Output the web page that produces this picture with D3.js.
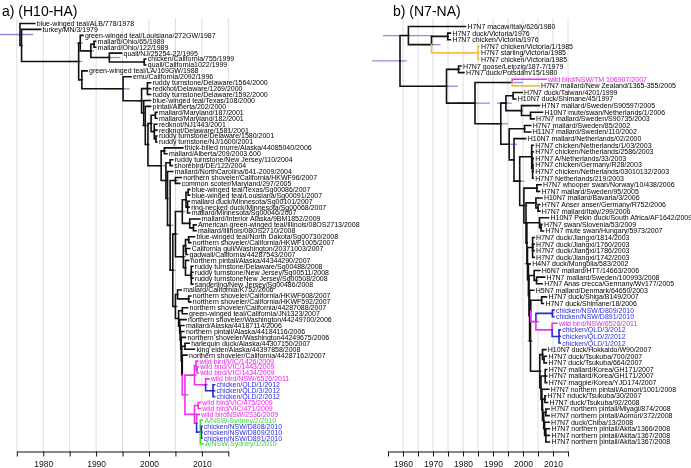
<!DOCTYPE html>
<html><head><meta charset="utf-8">
<script src="https://cdn.jsdelivr.net/npm/d3@7"></script>
<style>body{margin:0;background:#fff} svg{will-change:transform} text{font-family:"Liberation Sans",Arial,Helvetica,sans-serif}</style>
</head><body>
<svg id="c" width="691" height="468"></svg>
<script>
// ---------- Panel a (H10-HA) ----------
const namesA = [
"blue-winged teal/ALB/778/1978","turkey/MN/3/1979","green-winged teal/Louisiana/272GW/1987","mallard/Ohio/65/1989","mallard/Ohio/122/1989",
"quail/NJ/25254-22/1995","chicken/California/755/1999","quail/California1022/1999","green-winged teal/LA/169GW/1988","emu/California/2092/1996",
"ruddy turnstone/Delaware/1564/2000","redknot/Delaware/1269/2000","ruddy turnstone/Delaware/1592/2000","blue-winged teal/Texas/108/2000","pintail/Alberta/202/2000",
"mallard/Maryland/187/2001","mallard/Maryland/182/2001","redknot/NJ1443/2001","redknot/Delaware/1581/2001","ruddy turnstone/Delaware/1580/2001","ruddy turnstone/NJ/1600/2001",
"thick-billed murre/Alaska/44085040/2006","mallard/Alberta/209/2003.600","ruddy turnstone/New Jersey/110/2004","shorebird/DE/122/2004","mallard/NorthCarolina/641-2009/2004",
"northern shoveler/California/HKWF96/2007","common scoter/Maryland/297/2005","blue-winged teal/Texas/Sg00086/2007","blue-winged teal/Louisiana/Sg00091/2007",
"mallard duck/Minnesota/Sg00101/2007","ring-necked duck/Minnesota/Sg00068/2007","mallard/Minnesota/Sg00046/2007","mallard/Interior Alaska/9BM1852/2009",
"American green-winged teal/Illinois/08OS2713/2008","mallard/Illinois/08OS2710/2008","blue-winged teal/North Dakota/Sg00730/2008","northern shoveler/California/HKWF1005/2007",
"California gull/Washington/20371003/2007","gadwall/California/44287543/2007","northern pintail/Alaska/44344290/2007","ruddy turnstone/Delaware/Sg00488/2008",
"ruddy turnstone/New Jersey/Sg00511/2008","ruddy turnstoneNew Jersey/Sg00508/2008","sanderling/New Jersey/Sg00486/2008","mallard/California/K752/2006",
"northern shoveler/California/HKWF608/2007","northern shoveler/California/HKWF592/2007","northern shoveler/California/44287088/2007","green-winged teal/California/JN1323/2007",
"northern shoveler/Washington/44249700/2006","mallard/Alaska/44187114/2006","northern pintail/Alaska/44184116/2006","northern shoveler/Washington44249675/2006",
"harlequin duck/Alaska/44307150/2007","king eider/Alaska/44397858/2008","northern shoveler/California/44287162/2007",
"wild bird/VIC/1426/2009","wild bird/VIC/1443/2009","wild bird/VIC/1434/2009","wild bird/NSW/6526/2011","chicken/QLD/1/2012","chicken/QLD/3/2012","chicken/QLD/2/2012",
"wild bird/VIC/475/2009","wild bird/VIC/471/2009","wild birdNSW/2336/2009","A/NSW-Sydney/2/2010","chicken/NSW/D808/2010","chicken/NSW/D809/2010","chicken/NSW/D891/2010","A/NSW-Sydney/1/2010"];
const datesA = [1978.4,1979.5,1987.5,1989.9,1989.9,1994.8,1999.4,1999.4,1988.3,1996.6,
2000.3,2000.3,2000.3,2000.3,2000.3,2001.5,2001.5,2001.5,2001.5,2001.5,2001.5,
2006.4,2003.4,2004.5,2004.4,2004.5,2006.1,2005.8,2007.7,2007.7,2007.6,2007.6,2007.7,2009.6,
2008.9,2008.9,2008.6,2007.9,2007.7,2007.3,2007.5,2008.3,2008.3,2008.3,2008.3,2006.1,
2007.9,2007.9,2007.3,2007.2,2007.0,2006.6,2006.6,2006.9,2007.6,2008.6,2007.2,
2009.2,2009.3,2009.3,2011.3,2012.4,2012.4,2012.4,2009.7,2009.7,2009.5,2010.1,2010.0,2010.0,2010.0,2010.2];
const groupsA = [
"","","","","","","","","","",
"","","","","","","","","","",
"","","","","","","","","","",
"","","","","","","","","","",
"","","","","","","","","","",
"","","","","","","",
"m","m","m","m","b","b","b","m","m","m","g","b","b","b","g"];
const cladesA = [
["ROOT","(0,(1,((2,((3,4)1989.6|1989.1|1989.8,(5,(6,7)1999.1|1998.5|1999.3)1992.5|1990.8|1994.6)1989.0|1988.2|1989.6)1987.0|1986.3|1987.5,(8,(9,J)1995.1|1991.3|1996.4)1987.3)1986.7|1984.5|1987.4)1975.9)1975.6|1971.8|1978.1"],
["J","((10,11,12)1999.7,(13,(14,J4)1999.3|1998.6|1999.9)1999.0)1998.6|1997.6|1999.6"],
["J4","(((15,16)2001.2,(17,18,(19,20)2001.3)2001.0)2000.4|1999.9|2000.8,J5)1999.8|1999.2|2000.2"],
["J5","((21,22)2002.9|2002.2|2003.3,U)2002.3|2001.5|2003.2"],
["U","((23,24)2004.0,U2)2003.2|2002.6|2003.7"],
["U2","(25,U3)2003.5"],
["U3","((26,27)2005.0|2004.4|2005.6,U4)2004.0|2003.3|2004.6"],
["U4","(X,Y)2004.5|2003.8|2005.1"],
["X","(X1,X2)2005.0|2004.3|2005.6"],
["X1","(((28,29)2007.4,(30,31,32)2007.3)2007.0,(33,(34,35)2008.4)2007.7)2006.3|2005.8|2006.9"],
["X2","(((36,37)2007.5,(38,39)2007.0)2006.9,(40,(41,42,43,44)2008.0)2006.9)2006.5|2005.9|2007.0"],
["Y","((45,(46,47)2007.5)2005.4,Y1)2005.0|2004.4|2005.5"],
["Y1","((48,49)2006.3,Y2)2005.6"],
["Y2","(50,Y3)2005.8"],
["Y3","(51,Y4)2005.9"],
["Y4","(52,Y5)2006.0"],
["Y5","(53,Y6)2006.1"],
["Y6","((54,55)2006.8,Y7)2006.2"],
["Y7","(56,AU)2006.3"],
["AU","(AU1,AU2)2006.8|2006.1|2007.5@m"],
["AU1","((57,(58,59)2009.1)2008.9,(60,(61,62,63)2012.1|2011.6|2012.3@b)2010.7|2010|2011.2)2008.6|2008.1|2009.0"],
["AU2","((64,65)2009.3,(66,(67,(68,69,70)2009.9,71)2009.7@b)2009.0)2008.6|2008.2|2009.0"]
];
const ticksA = [1975,1980,1985,1990,1995,2000,2005,2010,2015];

// ---------- Panel b (N7-NA) ----------
const namesB = [
"H7N7 macaw/Italy/626/1980","H7N7 duck/Victoria/1976","H7N7 chicken/Victoria/1976","H7N7 chicken/Victoria/1/1985","H7N7 starling/Victoria/1985","H7N7 chicken/Victoria/1985",
"H7N7 goose/Leipzig/187-7/1979","H7N7 duck/Potsdam/15/1980","wild bird/NSW/TM 106907/2007","H7N7 mallard/New Zealand/1365-355/2005","H7N7 duck/Taiwan/4201/1999",
"H10N7 duck/Shimane/45/1997","H7N7 mallard/Sweden/S90597/2005","H10N7 mute/swan/Netherlands/1/2006","H7N7 mallard/Sweden/S90735/2003","H7N7 mallard/Sweden/85/2002",
"H11N7 mallard/Sweden/110/2002","H10N7 mallard/Netherlands/02/2000","H7N7 chicken/Netherlands/1/03/2003","H7N7 chicken/Netherlands/2586/2003","H7N7 A/Netherlands/33/2003",
"H7N7 chicken/Germany/R28/2003","H7N7 chicken/Netherlands/03010132/2003","H7N7 Netherlands/219/2003","H7N7 whooper swan/Norway/10/438/2006","H7N7 mallard/Sweden/95/2005",
"H10N7 mallard/Bavaria/3/2006","H7N7 Anser anser/Germany/R752/2006","H7N7 mallard/Italy/299/2006","H10N7 Pekin duck/South Africa/AF1642/2009","H7N7 swan/Slovenia/53/2009",
"H7N7 mute swan/Hungary/5973/2007","H7N7 duck/Jiangxi/1814/2003","H7N7 duck/Jiangxi/1760/2003","H7N7 duck/Jiangxi/1786/2003","H7N7 duck/Jiangxi/1742/2003",
"H4N7 duck/Mongolia/583/2002","H6N7 mallard/HTT/14663/2006","H7N7 mallard/Sweden/100993/2008","H7N7 Anas crecca/Germany/Wv177/2005","H5N7 mallard/Denmark/64650/2003",
"H7N7 duck/Shiga/B149/2007","H7N7 duck/Shimane/18/2006","chicken/NSW/D809/2010","chicken/NSW/D891/2010","wild bird/NSW/6526/2011","chicken/QLD/3/2012","chicken/QLD/2/2012","chicken/QLD/1/2012",
"H10N7 duck/Hokkaido/W90/2007","H7N7 duck/Tsukuba/700/2007","H7N7 duck/Tsukuba/664/2007","H7N7 mallard/Korea/GH171/2007","H7N7 mallard/Korea/GH171/2007","H7N7 magpie/Korea/YJD174/2007",
"H7N7 northern pintail/Aomori/1001/2008","H7N7 nduck/Tsukuba/30/2007","H7N7 duck/Tsukuba/92/2008","H7N7 northern pintail/Miyagi/874/2008","H7N7 northern pintail/Aomori/372/2008",
"H7N7 duck/Chiba/13/2008","H7N7 northern pintail/Akita/1366/2008","H7N7 northern pintail/Akita/1367/2008","H7N7 northern pintail/Akita/1367/2008"];
const datesB = [1980.8,1975.8,1975.8,1985.3,1985.3,1985.3,1979.3,1980.3,2007.7,2005.3,1999.7,
1997.6,2005.5,2006.5,2003.7,2002.6,2002.6,2000.9,2003.4,2003.4,2003.4,2003.4,2003.4,2003.4,2006.0,2005.5,
2006.3,2005.6,2005.6,2008.5,2006.3,2006.8,2003.7,2003.7,2003.7,2003.7,2002.4,2005.6,2007.2,2006.4,2003.6,
2007.8,2006.8,2010.3,2010.3,2011.3,2012.4,2012.4,2012.4,2007.6,2007.8,2007.8,2007.9,2007.9,2007.9,
2008.6,2007.5,2008.2,2008.7,2008.7,2008.7,2008.8,2008.8,2008.8];
const groupsB = [
"","","","o","o","o","","","m","o",
"","","","","","","","","","",
"","","","","","","","","","",
"","","","","","","","","","",
"","","","b","b","m","b","b","b","",
"","","","","","","","","","",
"","","",""];
const cladesB = [
["ROOT","((0,((1,2)1974.9,(3,4,5)1985.0@o)1969.5|1966|1972.5)1961.8|1953.3|1970,((6,7)1978.5|1975|1979.2,((8,9)1996.4|1992|2000,CC)1984.0|1978.5|1989)1974.5|1971.3|1978.3)1959.0|1949.7|1961.3"],
["CC","(DD,EE)1992.6|1988.5|1995"],
["DD","((10,11)1996.7,(12,(13,14)2002.5)1999.5)1994.3|1991.3|1996.3"],
["EE","((15,16)2000.5,KK)1995.4|1993|1998"],
["KK","(17,LL)1997.0"],
["LL","((18,19,(20,21,22,23)2003.2)2002.9,NN)1998.9|1996.5|2000.5"],
["NN","((24,25)2004.6,RR)2000.3|1999|2001.5"],
["RR","((26,(27,28)2005.0)2004.3,TT)2001.0"],
["TT","((29,(30,31)2006.0)2005.5,VV)2001.3"],
["VV","((32,33,34,35)2003.2,XX)2001.5|2000.5|2002.5"],
["XX","(36,YY)2001.8"],
["YY","((37,(38,39)2004.5)2003.7,AB)2002.0"],
["AB","(40,AC)2002.2"],
["AC","(AD,AE)2002.5|2001.5|2003.2"],
["AD","((41,42)2006.2,AG)2002.6"],
["AG","((43,44)2009.8@b,(45,(46,47,48)2012.0@b)2009.7)2004.3|2003|2005.5@m"],
["AE","((49,(50,51)2007.0)2006.5,AM)2005.6|2004.5|2006.3"],
["AM","((52,53,54)2007.4,AO)2006.0"],
["AO","(55,AP)2006.3"],
["AP","((56,57)2007.3,AR)2006.5"],
["AR","((58,59)2007.6,AT)2006.9"],
["AT","(60,(61,62,63)2007.6)2007.2"]
];
const ticksB = [1955,1960,1965,1970,1975,1980,1985,1990,1995,2000,2005,2010,2015];

// ---------- styles ----------
const lineCol = {"":"#111", m:"#ee33ee", b:"#2a2ad0", g:"#44dd44", o:"#f2c04a"};
const textCol = {"":"#000", m:"#ee22ee", b:"#2f2fd6", g:"#3cd43c", o:"#000"};

function expand(clades){
  const map = new Map(clades);
  let s = map.get("ROOT");
  for(let k=0;k<30 && /[A-Z]/.test(s);k++) s = s.replace(/[A-Z][A-Z0-9]*/g, m => map.get(m));
  return s;
}
function parseNewick(s){
  s = s.replace(/\s+/g,"");
  let i=0;
  function node(){
    let n;
    if(s[i]==='('){
      i++; const ch=[node()];
      while(s[i]===','){i++; ch.push(node());}
      i++; n={children:ch};
    } else n={};
    let lab='';
    while(i<s.length && !',()'.includes(s[i])) lab+=s[i++];
    const [nums,col] = lab.split('@');
    const p = nums.split('|').map(Number);
    if(n.children){ n.t=p[0]; if(p.length>2){n.lo=p[1];n.hi=p[2];} n.col=col; }
    else { n.leaf=p[0]; }
    return n;
  }
  return node();
}

const svg = d3.select("#c");

function drawPanel(cfg){
  const g = svg.append("g");
  const x = d3.scaleLinear().domain(cfg.xDomain).range(cfg.xRange);
  const y = d3.scalePoint().domain(d3.range(cfg.names.length)).range(cfg.yRange);
  g.append("g").selectAll("line").data(cfg.grid).join("line")
    .attr("x1",d=>x(d)).attr("x2",d=>x(d)).attr("y1",cfg.gridTop).attr("y2",cfg.axisY)
    .attr("stroke","#dedede").attr("stroke-width",1);
  const root = parseNewick(expand(cfg.clades));
  const segs=[], hpds=[], leaves=[];
  (function walk(n, parentCol){
    if(n.children){
      n.c = n.col!==undefined ? n.col : parentCol;
      n.children.forEach(ch=>walk(ch, n.c));
      n.y = (n.children[0].y + n.children[n.children.length-1].y)/2;
      if(n.lo!==undefined) hpds.push(n);
    } else {
      n.t = cfg.dates[n.leaf];
      const gr = cfg.groups[n.leaf];
      n.c = gr ? gr : parentCol;
      n.y = y(n.leaf);
      leaves.push(n);
    }
  })(root, "");
  (function walk2(n){
    if(n.children) n.children.forEach(ch=>{ segs.push({p:n,c:ch}); walk2(ch); });
  })(root);
  g.append("g").selectAll("line").data(hpds).join("line")
    .attr("x1",d=>x(d.lo)).attr("x2",d=>x(d.hi)).attr("y1",d=>d.y).attr("y2",d=>d.y)
    .attr("stroke","#6a6ad8").attr("stroke-opacity",0.75).attr("stroke-width",1.3);
  segs.sort((a,b)=>(a.c.c?1:0)-(b.c.c?1:0));
  g.append("g").attr("fill","none").selectAll("path").data(segs).join("path")
    .attr("d",d=>`M${x(d.p.t)},${d.p.y}V${d.c.y}H${x(d.c.t)}`)
    .attr("stroke",d=>lineCol[d.c.c||""]).attr("stroke-width",1.6).attr("stroke-linecap","square");
  g.append("g").selectAll("text").data(leaves).join("text")
    .attr("x",d=>x(d.t)+2).attr("y",d=>d.y).attr("dy","0.35em")
    .attr("font-size","7px").attr("fill",d=>textCol[cfg.groups[d.leaf]||""])
    .text(d=>cfg.names[d.leaf]);
  const ax = g.append("g").attr("transform",`translate(0,${cfg.axisY})`)
    .call(d3.axisBottom(x).tickValues(cfg.ticks).tickFormat(d=>d%10===0?d:"").tickSize(5).tickSizeOuter(0));
  ax.select(".domain").attr("stroke","#111");
  ax.selectAll(".tick line").attr("stroke","#111");
  ax.selectAll(".tick text").attr("font-size","8.5px").attr("fill","#111").attr("dy","0.9em")
    .attr("font-family","Liberation Sans, Arial, sans-serif");
  svg.append("text").attr("x",cfg.titleX).attr("y",16).attr("font-size","14px").attr("fill","#000").text(cfg.title);
}

drawPanel({names:namesA,dates:datesA,groups:groupsA,clades:cladesA,ticks:ticksA,
  grid:d3.range(1975,2016,5), xDomain:[1975,2015], xRange:[16.8,228.3], yRange:[23.5,444],
  axisY:451.5, gridTop:18, title:"a) (H10-HA)", titleX:2});
drawPanel({names:namesB,dates:datesB,groups:groupsB,clades:cladesB,ticks:ticksB,
  grid:d3.range(1960,2016,5), xDomain:[1955,2015], xRange:[388,568], yRange:[26.5,442],
  axisY:451.5, gridTop:18, title:"b) (N7-NA)", titleX:393});
</script>
</body></html>
